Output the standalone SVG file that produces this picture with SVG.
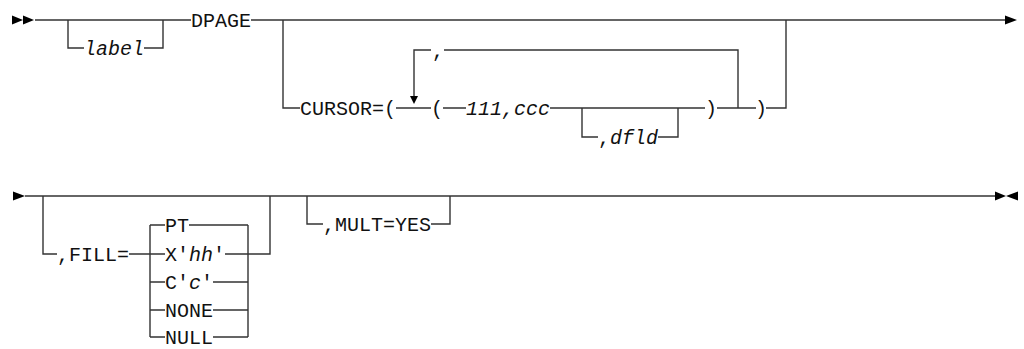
<svg xmlns="http://www.w3.org/2000/svg" width="1024" height="349" viewBox="0 0 1024 349">
<style>
.ln{stroke:#333;stroke-width:1.4;fill:none}
.ah{fill:#000}
.t{font-family:"Liberation Mono",monospace;font-size:20px;fill:#111}
.i{font-style:italic}
</style>
<rect width="1024" height="349" fill="#fff"/>
<g id="connectors">
<path class="ln" d="M35,20 H191 M251,20 H1005"/>
<path class="ln" d="M68,20 V48 H84 M144,48 H163 V20"/>
<path class="ln" d="M283,20 V108 H300 M396,108 H431 M443,108 H466 M550,108 H705 M717,108 H756 M766,108 H786 V20"/>
<path class="ln" d="M414,96 V50 H431 M444,50 H738 V108"/>
<path class="ln" d="M582,108 V137 H598 M658,137 H678 V108"/>
<path class="ln" d="M25,196 H995"/>
<path class="ln" d="M43,196 V254 H57 M129,254 H150"/>
<path class="ln" d="M150,225 V337 M248,225 V337 M248,254 H270 V196"/>
<path class="ln" d="M150,225 H165 M189,225 H248 M150,254 H165 M225,254 H248 M150,282 H165 M213,282 H248 M150,310 H165 M213,310 H248 M150,337 H165 M213,337 H248"/>
<path class="ln" d="M307,196 V224 H323 M431,224 H450 V196"/>
<polygon class="ah" points="410,96 418,96 414,104"/>
</g>
<g id="start1"><polygon class="ah" points="12,15.5 23,20 12,24.5"/><polygon class="ah" points="23,15.5 34,20 23,24.5"/></g>
<g id="end1"><polygon class="ah" points="1005,15.5 1017,20 1005,24.5"/></g>
<g id="start2"><polygon class="ah" points="13,191.5 25,196 13,200.5"/></g>
<g id="end2"><polygon class="ah" points="995,191.5 1006,196 995,200.5"/><polygon class="ah" points="1018,191.5 1006,196 1018,200.5"/></g>
<g id="n-label"><text class="t i" x="84" y="55">label</text></g>
<g id="n-dpage"><text class="t" x="191" y="27">DPAGE</text></g>
<g id="n-cursor"><text class="t" x="300" y="115">CURSOR=(</text></g>
<g id="n-comma"><text class="t" x="432" y="57">,</text></g>
<g id="n-lparen"><text class="t" x="437" y="115" text-anchor="middle">(</text></g>
<g id="n-lllccc"><text class="t i" x="466" y="115">111,ccc</text></g>
<g id="n-dfld"><text class="t" x="598" y="144">,<tspan class="i">dfld</tspan></text></g>
<g id="n-rparen1"><text class="t" x="711" y="115" text-anchor="middle">)</text></g>
<g id="n-rparen2"><text class="t" x="761" y="115" text-anchor="middle">)</text></g>
<g id="n-fill"><text class="t" x="57" y="261">,FILL=</text></g>
<g id="n-pt"><text class="t" x="165" y="232">PT</text></g>
<g id="n-xhh"><text class="t" x="165" y="261">X'<tspan class="i">hh</tspan>'</text></g>
<g id="n-cc"><text class="t" x="165" y="289">C'<tspan class="i">c</tspan>'</text></g>
<g id="n-none"><text class="t" x="165" y="317">NONE</text></g>
<g id="n-null"><text class="t" x="165" y="344">NULL</text></g>
<g id="n-mult"><text class="t" x="323" y="231">,MULT=YES</text></g>
</svg>
